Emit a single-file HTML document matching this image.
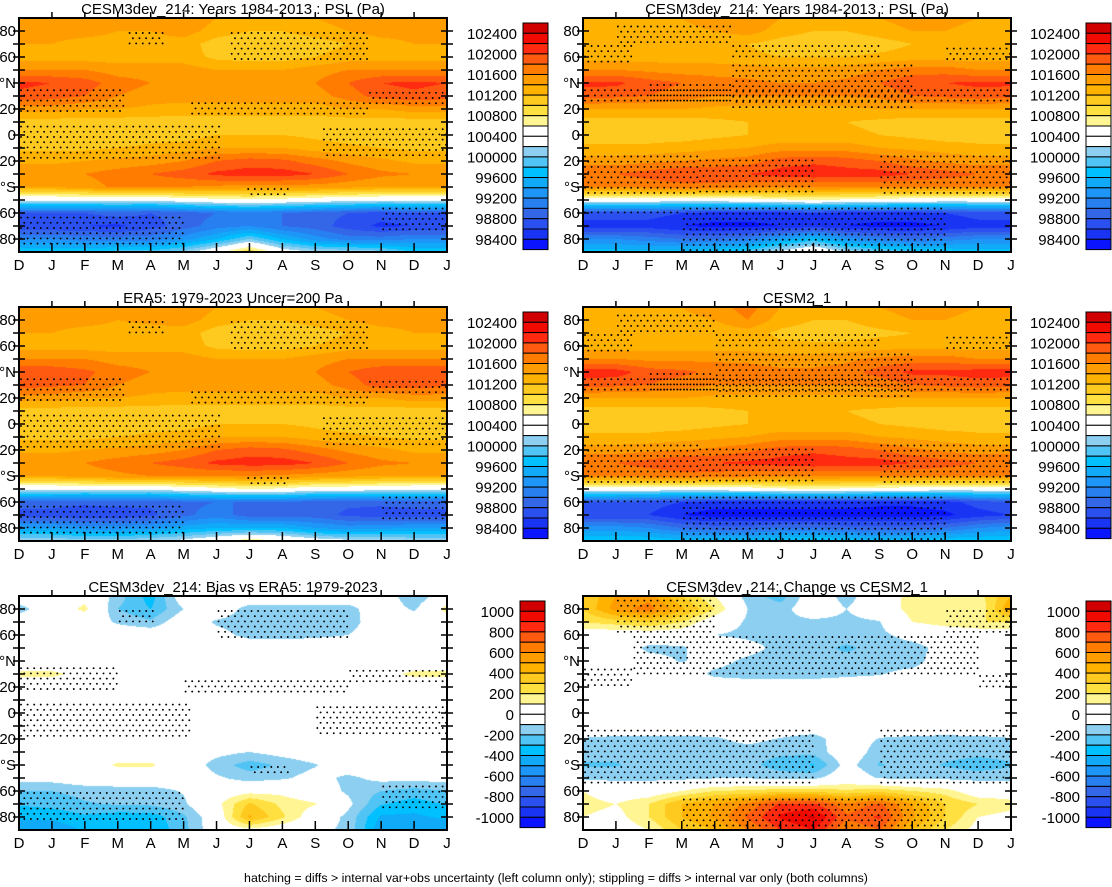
<!DOCTYPE html>
<html><head><meta charset="utf-8">
<style>
html,body{margin:0;padding:0;background:#fff;}
#wrap{position:relative;width:1112px;height:887px;overflow:hidden;font-family:"Liberation Sans",sans-serif;}
canvas{position:absolute;}
svg{position:absolute;left:0;top:0;}
</style></head>
<body>
<div id="wrap">
<svg id="ov" width="1112" height="887"></svg>
</div>
<script>
const months=['D','J','F','M','A','M','J','J','A','S','O','N','D','J'];
const lats=[90,80,70,60,50,40,30,20,10,0,-10,-20,-30,-40,-50,-60,-70,-80,-90];
const yTickLats=[80,60,40,20,0,-20,-40,-60,-80];
const yTickLabels=['80','60','°N','20','0','20','°S','60','80'];
const absLevels=[984,986,988,990,992,994,996,998,1000,1002,1004,1006,1008,1010,1012,1014,1016,1018,1020,1022,1024];
const absLabels=['102400','102000','101600','101200','100800','100400','100000','99600','99200','98800','98400'];
const diffLevels=[-1000,-900,-800,-700,-600,-500,-400,-300,-200,-100,0,100,200,300,400,500,600,700,800,900,1000];
const diffLabels=['1000','800','600','400','200','0','-200','-400','-600','-800','-1000'];
const colorsTopDown=['#d00000','#f00a00','#ff2a10','#ff5a10','#ff7c00','#ff9c00','#ffb200','#ffca20','#ffe040','#fff592','#ffffff','#ffffff','#8ccff0','#50c4f4','#00c0ff','#10aaf8','#1e96f8','#2880f0','#3466e8','#2a50f0','#1a34f4','#0a14ff'];

const gridCESM3a=[
[1015,1015,1015,1014,1015,1016,1014,1013,1013,1014,1015,1016,1015,1015],
[1015,1015,1015,1014,1014,1015,1013,1012,1012,1013,1014,1015,1015,1015],
[1014,1014,1013,1013,1013,1013,1011,1010.5,1010.5,1011,1012,1013,1014,1014],
[1013,1013,1013,1013,1013,1013,1011.5,1011,1011,1012,1013,1013,1013,1013],
[1016,1016,1016,1015,1015,1015,1014,1014,1014,1015,1016,1016,1016,1016],
[1020.5,1020,1019,1017,1016,1016,1015,1015,1015,1016,1018,1020,1020.5,1020],
[1019.5,1019,1018,1016,1015,1015,1015,1015,1015,1015,1017,1019,1019.5,1019],
[1015,1015,1014,1014,1013.5,1013,1013,1013,1013,1013,1014,1014,1015,1015],
[1011,1011,1011,1011,1011,1011,1011,1011,1011,1011,1011,1011,1011,1011],
[1010.5,1010.5,1010.5,1010.5,1011,1011,1012,1012,1012,1011.5,1011,1010.5,1010.5,1010.5],
[1011.5,1011.5,1011.5,1012,1012.5,1013,1014,1014,1014,1013,1012.5,1012,1011.5,1011.5],
[1013.5,1013.5,1014,1014.5,1015,1016,1018,1019,1018.5,1017,1015.5,1014.5,1013.5,1013.5],
[1016,1015.5,1016,1017,1018,1019,1020.5,1021,1021,1020,1018,1016.5,1016,1015.5],
[1014,1014,1015,1016.5,1016.5,1016,1015.5,1015,1015,1015,1014.5,1014,1014,1014],
[1003,1003,1003,1003,1003,1004,1005,1005.5,1005,1004,1003.5,1003,1003,1003],
[988,988,988,989,988,989,990,991,990,989,988,987,988,988],
[986,986,986,985.5,987,989,991,992,990,989,987,985.5,986,986],
[992,992,991,991,991,993,996,1000,996,993,991,991,992,992],
[998,998,998,999,999,1001,1005,1010,1004,1002,1002,1001,998,998]];

const gridCESM3b=[
[1014,1014,1014,1014,1015,1016,1014,1013,1013,1014,1015,1015,1014,1014],
[1013,1013,1013.5,1013.5,1014,1015,1013,1012,1012,1013,1014,1014,1013,1013],
[1012.5,1012.5,1012.5,1012.5,1012,1012,1011,1010.5,1010.5,1011,1012,1012,1012.5,1012.5],
[1013,1013,1013,1013,1013,1012.5,1012,1012,1012,1012.5,1013,1013,1013,1013],
[1016,1016,1015.5,1015,1015,1015,1014.5,1014.5,1015,1016,1017,1017,1016,1016],
[1020.5,1020.5,1019,1018,1017,1016.5,1016,1016,1016.5,1018,1019.5,1020,1020.5,1020.5],
[1019,1018.5,1018,1017,1016,1016,1016,1016,1016,1016.5,1018,1018.5,1019,1018.5],
[1014,1014,1014,1014,1013.5,1013.5,1013.5,1013.5,1013.5,1014,1014,1014,1014,1014],
[1011,1011,1011,1011,1011.5,1012,1012,1012,1012,1011.5,1011,1011,1011,1011],
[1011,1011,1011,1011,1011.5,1012,1012.5,1012.5,1012.5,1012,1011.5,1011,1011,1011],
[1012.5,1012.5,1012.5,1013,1013.5,1014,1015,1015,1015,1014,1013.5,1013,1012.5,1012.5],
[1015,1015,1015.5,1016,1016.5,1017,1019,1019.5,1019,1018,1016.5,1015.5,1015,1015],
[1018,1018,1019,1020,1020,1020,1021,1021.5,1021,1021,1020,1019,1018,1018],
[1016,1016,1016.5,1017,1017,1016.5,1016,1016,1016,1016,1016,1016,1016,1016],
[1004,1004,1004,1004,1004,1004.5,1005.5,1006,1005.5,1005,1004.5,1004,1004,1004],
[987,987,987,986,985,985,985,986,985,985,985,986,987,987],
[985,985,985,984,983.5,983.5,984,985,984,983.5,983.5,984,985,985],
[992,992,991,990,990,991,994,997,993,991,990,991,992,992],
[997,997,997,997,998,999,1003,1006,1002,1000,999,998,997,997]];

const gridERA5=[
[1015,1015,1015,1014,1016,1016,1014,1013,1013,1014,1015,1016,1015,1015],
[1015,1015,1015,1014,1014.5,1015,1013,1012,1012,1013,1014,1015,1015,1015],
[1014,1014,1013,1013,1013,1013,1011,1010.5,1010.5,1011,1012,1013,1014,1014],
[1013,1013,1013,1013,1013,1013,1011.5,1011,1011,1012,1013,1013,1013,1013],
[1016,1016,1016,1015,1015,1015,1014,1014,1014,1015,1016,1016,1016,1016],
[1020,1019.5,1018.5,1017,1016,1016,1015,1015,1015,1016,1018,1019.5,1020,1019.5],
[1019,1018.5,1018,1016,1015,1015,1015,1015,1015,1015,1017,1019,1019,1018.5],
[1015,1015,1014,1014,1013.5,1013,1013,1013,1013,1013,1014,1014,1015,1015],
[1011,1011,1011,1011,1011,1011,1011,1011,1011,1011,1011,1011,1011,1011],
[1010.5,1010.5,1010.5,1010.5,1011,1011,1012,1012,1012,1011.5,1011,1010.5,1010.5,1010.5],
[1011.5,1011.5,1011.5,1012,1012.5,1013,1014,1014,1014,1013,1012.5,1012,1011.5,1011.5],
[1013.5,1013.5,1014,1014.5,1015,1016,1018,1019,1018.5,1017,1015.5,1014.5,1013.5,1013.5],
[1016,1015.5,1016,1017,1018,1019,1020.5,1021,1021,1020,1018,1016.5,1016,1015.5],
[1014,1014,1015,1015.5,1016,1016,1016,1016,1015.5,1015,1014.5,1014,1014,1014],
[1003,1003,1003,1003,1003,1004,1005,1006,1005.5,1004,1004,1003.5,1003,1003],
[989,989,988.5,989,988.5,989.5,990,990,990,989,988.5,988.5,989,989],
[987,987,986.5,986.5,987.5,989.5,991,989,989,989,987.5,987,987,987],
[994,994,993,993,993.5,995,996,996,996,994,993,993.5,994,994],
[1002,1002,1001,1001,1002,1003,1005,1008,1006,1004,1003,1003,1002,1002]];

const gridCESM2=[
[1014,1014,1014,1014,1015,1017,1014,1013,1013,1014,1015,1015,1014,1014],
[1013,1013,1013.5,1013.5,1014,1016,1013,1012,1012,1013,1014,1014,1013,1013],
[1012.5,1012.5,1012.5,1012.5,1012.5,1013,1011.5,1011,1011,1011.5,1012,1012,1012.5,1012.5],
[1013,1013,1013,1013,1013,1013,1012.5,1012.5,1012.5,1013,1013,1013,1013,1013],
[1016,1016,1015.5,1015.5,1015.5,1015.5,1015,1015,1015.5,1016.5,1017,1017,1016,1016],
[1021,1021,1019,1018.5,1017.5,1017,1016.5,1016.5,1017,1019,1020.5,1020.5,1021,1021],
[1019,1018.5,1018,1017,1016,1016,1016,1016,1016,1016.5,1018,1018.5,1019,1018.5],
[1014,1014,1014,1014,1013.5,1013.5,1013.5,1013.5,1013.5,1014,1014,1014,1014,1014],
[1011,1011,1011,1011,1011.5,1012,1012,1012,1012,1011.5,1011,1011,1011,1011],
[1011,1011,1011,1011,1011.5,1012,1012.5,1012.5,1012.5,1012,1011.5,1011,1011,1011],
[1012.5,1012.5,1012.5,1013,1013.5,1014,1015,1015,1015,1014,1013.5,1013,1012.5,1012.5],
[1015,1015,1015.5,1016,1016.5,1017.5,1019,1019.5,1019,1018,1016.5,1015.5,1015,1015],
[1018,1018,1019,1020,1020,1020.5,1021,1021.5,1021,1021,1020,1019,1018,1018],
[1016,1016,1016.5,1017,1017,1016.5,1016,1016,1016,1016,1016,1016,1016,1016],
[1004,1004,1004,1004,1004,1004.5,1005.5,1006,1005.5,1005,1004.5,1004,1004,1004],
[988,988,987,986,985,985,985,985,985,984.5,984.5,985,987,988],
[986,986,986,984,983,983,983,983,983,983,983,983.5,985,986],
[993,993,992,990,989,989,990,990,989,989,989,990,992,993],
[998,998,998,997,997,997,998,999,998,997,997,998,998,998]];

const gridBias=[
[0,0,50,-150,-350,0,0,0,0,0,0,0,-200,0],
[-150,0,130,-200,-300,-100,0,-150,-150,-150,-150,0,-120,150],
[0,0,0,-120,-180,0,-120,-160,-160,-160,-160,0,0,0],
[0,0,0,0,0,0,-50,-140,-150,-130,-100,0,0,0],
[0,0,0,0,0,0,0,0,0,0,0,0,0,0],
[0,0,0,0,0,0,0,0,0,0,0,0,0,0],
[130,130,50,0,0,0,0,0,0,0,0,50,130,130],
[0,0,0,0,0,0,0,0,0,0,0,0,0,0],
[0,0,0,0,0,0,0,0,0,0,0,0,0,0],
[0,0,0,0,0,0,0,0,0,0,0,0,0,0],
[0,0,0,0,0,0,0,0,0,0,0,0,0,0],
[0,0,0,0,0,0,0,0,0,0,0,0,0,0],
[0,0,0,0,0,0,-60,-100,-50,0,0,0,0,0],
[0,0,0,120,120,0,-150,-250,-180,-110,0,0,0,0],
[-50,-50,0,0,0,0,-80,-150,-120,-50,-130,-60,-60,-50],
[-200,-200,-170,-150,-150,-90,0,50,60,-20,-120,-200,-240,-200],
[-290,-260,-210,-190,-180,-120,60,320,170,110,-70,-290,-350,-290],
[-380,-380,-320,-360,-360,-220,0,420,220,0,-130,-420,-420,-380],
[-480,-480,-380,-380,-380,-240,0,60,0,-60,-130,-480,-480,-480]];

const gridChange=[
[300,500,550,300,100,-150,-250,0,-150,0,150,200,150,400],
[300,550,650,420,200,-100,-150,0,-100,0,150,200,100,500],
[200,250,300,200,0,-120,-130,-130,-130,-110,100,150,200,200],
[0,0,0,0,-100,-130,-150,-150,-150,-130,-50,0,0,0],
[0,0,-130,-120,0,-50,-140,-160,-220,-160,-150,-50,0,0],
[0,0,-50,-110,-50,-130,-160,-160,-160,-160,-160,0,0,0],
[0,0,0,0,-130,-160,-160,-160,-130,-110,-50,0,0,0],
[0,0,0,0,0,0,0,0,0,0,0,0,0,0],
[0,0,0,0,0,0,0,0,0,0,0,0,0,0],
[0,0,0,0,0,0,0,0,0,0,0,0,0,0],
[0,0,0,0,0,0,0,0,0,0,0,0,0,0],
[-110,-130,-130,-130,-120,-60,-110,-160,0,-110,-130,-140,-130,-110],
[-160,-160,-160,-160,-150,-160,-170,-170,0,-160,-140,-160,-160,-160],
[-210,-210,-160,-160,-160,-160,-260,-310,-50,-210,-160,-210,-260,-210],
[-130,-130,-130,-130,-110,-110,-130,-130,0,-110,-130,-130,-130,-130],
[100,0,0,100,200,220,260,260,220,260,200,150,0,0],
[150,100,200,400,500,620,820,820,620,720,500,300,200,150],
[100,50,200,400,520,720,920,1020,720,820,520,300,100,50],
[50,0,100,300,400,600,800,900,600,700,400,200,50,0]];

const stipP1=[[80,67,3.3,4.4],[80,55,6.4,10.6],[36,17,0,3.2],[26,14,5.2,10.6],[34,24,10.6,13],[8,-20,0,6.1],[6,-18,9.2,13],[-62,-85,0,5],[-55,-75,11,13],[-40,-46,6.9,8.2]];
const stipP2=[[85,70,1,4.5],[70,55,0,1.5],[70,60,4.5,9],[68,56,11,13],[55,20,4.5,10],[40,25,2,4.5],[36,24,0,13],[-15,-48,0,3.5],[-15,-48,9,13],[-18,-45,3.5,7],[-55,-90,3,11],[-58,-62,0,3]];
const stipP3=[[80,67,3.3,4.4],[80,55,6.4,10.6],[36,17,0,3.2],[26,14,5.2,10.6],[34,24,10.6,13],[8,-20,0,6.1],[6,-18,9.2,13],[-62,-85,0,5],[-55,-75,11,13],[-40,-46,6.9,8.2]];
const stipP4=[[85,70,1,4],[70,55,0,1.5],[70,60,4,9],[68,56,11,13],[55,20,4,10],[40,25,2,4],[36,24,0,13],[-15,-48,0,3.5],[-15,-48,9,13],[-18,-45,3.5,7],[-55,-90,3,11],[-58,-62,0,3]];
const stipP5=[[80,67,3,4.1],[80,55,6,10],[36,17,0,3],[26,14,5,10],[34,24,10,13],[8,-20,0,5.2],[6,-18,9,13],[-60,-85,0,5],[-55,-75,11,13],[-40,-48,7,8.2]];
const stipP6=[[88,60,1,4],[80,60,11,13],[60,30,1.5,12],[35,20,0,1.5],[30,20,12,13],[-12,-55,0,7],[-12,-55,9,13],[-65,-90,3,11]];

const panels=[
 {grid:gridCESM3a,levels:absLevels,labels:absLabels,stip:stipP1,title:'CESM3dev_214: Years 1984-2013 : PSL (Pa)',px:19,py:18,cbx:523,name:'cesm3-psl-left'},
 {grid:gridCESM3b,levels:absLevels,labels:absLabels,stip:stipP2,title:'CESM3dev_214: Years 1984-2013 : PSL (Pa)',px:583,py:18,cbx:1086,name:'cesm3-psl-right'},
 {grid:gridERA5,levels:absLevels,labels:absLabels,stip:stipP3,title:'ERA5: 1979-2023 Uncer=200 Pa',px:19,py:307,cbx:523,name:'era5-psl'},
 {grid:gridCESM2,levels:absLevels,labels:absLabels,stip:stipP4,title:'CESM2_1',px:583,py:307,cbx:1086,name:'cesm2-psl'},
 {grid:gridBias,levels:diffLevels,labels:diffLabels,stip:stipP5,title:'CESM3dev_214: Bias vs ERA5: 1979-2023',px:19,py:596,cbx:520,name:'bias-vs-era5'},
 {grid:gridChange,levels:diffLevels,labels:diffLabels,stip:stipP6,title:'CESM3dev_214: Change vs CESM2_1',px:583,py:596,cbx:1086,name:'change-vs-cesm2'}
];
const PW=428, PH=234;
const NS='http://www.w3.org/2000/svg';
const svg=document.getElementById('ov');
const wrap=document.getElementById('wrap');
function el(tag,attrs,parent){const e=document.createElementNS(NS,tag);for(const k in attrs)e.setAttribute(k,attrs[k]);(parent||svg).appendChild(e);return e;}
function hex(c){return [parseInt(c.slice(1,3),16),parseInt(c.slice(3,5),16),parseInt(c.slice(5,7),16)];}
const rgbTD=colorsTopDown.map(hex);

panels.forEach(p=>{
  const xS=m=>p.px+m/13*PW;
  const yS=lat=>p.py+(90-lat)/180*PH;
  const cv=document.createElement('canvas');
  cv.width=PW;cv.height=PH;cv.style.left=p.px+'px';cv.style.top=p.py+'px';
  
  
  wrap.insertBefore(cv,svg);
  const ctx=cv.getContext('2d');const img=ctx.createImageData(PW,PH);
  const g=p.grid;
  for(let y=0;y<PH;y++){
    const lat=90-(y+0.5)/PH*180;
    const r=(90-lat)/10;const r0=Math.min(17,Math.floor(r));const fr=r-r0;
    for(let x=0;x<PW;x++){
      const m=(x+0.5)/PW*13;const c0=Math.min(12,Math.floor(m));const fc=m-c0;
      const v=(g[r0][c0]*(1-fc)+g[r0][c0+1]*fc)*(1-fr)+(g[r0+1][c0]*(1-fc)+g[r0+1][c0+1]*fc)*fr;
      let cnt=0;for(const L of p.levels){if(v>=L)cnt++;}
      const col=rgbTD[21-cnt];const i=(y*PW+x)*4;
      img.data[i]=col[0];img.data[i+1]=col[1];img.data[i+2]=col[2];img.data[i+3]=255;
    }
  }
  ctx.putImageData(img,0,0);
  const sg=el('g',{});
  
  
  p.stip.forEach(s=>{
    const y1=yS(s[0]),y2=yS(s[1]),x1=xS(s[2]),x2=xS(s[3]);
    let row=0;
    for(let y=y1+2;y<y2;y+=5.2,row++){
      for(let x=x1+2+(row%2?3.3:0);x<x2;x+=6.6){
        el('circle',{cx:x.toFixed(1),cy:y.toFixed(1),r:0.95,fill:'#000'},sg);
      }
    }
  });
  const fr=el('rect',{x:p.px,y:p.py,width:PW,height:PH,fill:'none',stroke:'#000','stroke-width':2});
  
  
  const t=el('text',{x:p.px+PW/2,y:p.py-4,'text-anchor':'middle','font-size':15,fill:'#000'});
  t.textContent=p.title;
  
  
  for(let lat=-80;lat<=80;lat+=10){
    const y=yS(lat);
    el('line',{x1:p.px-6,x2:p.px+6,y1:y,y2:y,stroke:'#000','stroke-width':1.5});
    el('line',{x1:p.px+PW-6,x2:p.px+PW+6,y1:y,y2:y,stroke:'#000','stroke-width':1.5});
  }
  yTickLats.forEach((lat,i)=>{
    const tx=el('text',{x:p.px-3,y:yS(lat)+5,'text-anchor':'end','font-size':15,fill:'#000'});
    tx.textContent=yTickLabels[i];
    
    
  });
  months.forEach((mo,i)=>{
    const x=xS(i);
    if(i>0&&i<13){
      el('line',{x1:x,x2:x,y1:p.py+PH,y2:p.py+PH-9,stroke:'#000','stroke-width':1.5});
      el('line',{x1:x,x2:x,y1:p.py,y2:p.py-6,stroke:'#000','stroke-width':1.5});
    }
    const tx=el('text',{x:x,y:p.py+PH+18,'text-anchor':'middle','font-size':15,fill:'#000'});
    tx.textContent=mo;
    
    
  });
  const cb=el('g',{});
  
  
  const cby=p.py+5, bh=10.3;
  colorsTopDown.forEach((c,i)=>{
    el('rect',{x:p.cbx,y:(cby+i*bh).toFixed(1),width:25,height:bh.toFixed(1),fill:c,stroke:'#000','stroke-width':1},cb);
  });
  p.labels.forEach((lb,i)=>{
    const tx=el('text',{x:p.cbx-6,y:(cby+(1+2*i)*bh+5.5).toFixed(1),'text-anchor':'end','font-size':15,fill:'#000'},cb);
    tx.textContent=lb;
    
    
  });
});
const ft=el('text',{x:556,y:882,'text-anchor':'middle','font-size':12.4,fill:'#000'});
ft.textContent='hatching = diffs > internal var+obs uncertainty (left column only); stippling = diffs > internal var only (both columns)';


</script>
</body></html>
